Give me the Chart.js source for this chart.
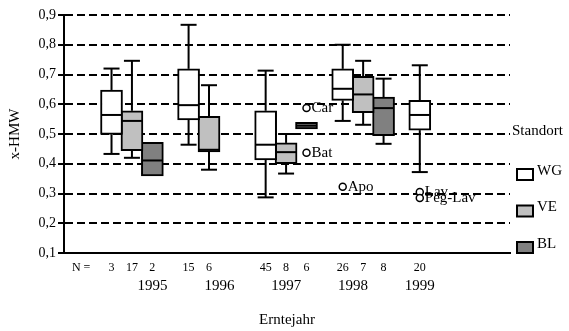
<!DOCTYPE html>
<html>
<head>
<meta charset="utf-8">
<script src="https://cdn.jsdelivr.net/npm/chart.js@4/dist/chart.umd.min.js"></script>
<style>
  body { margin: 0; background: #fff; }
</style>
</head>
<body>
<canvas id="graphique" width="569" height="331"></canvas>
<script>
const jahre = ["1995", "1996", "1997", "1998", "1999"];
const standorte = ["WG", "VE", "BL"];
const farben = ["#ffffff", "#c0c0c0", "#808080"];

// [min, q1, median, q3, max] pro Jahr, null = keine Daten
const boxWG = [
    [0.433, 0.499, 0.564, 0.648, 0.720],
    [0.464, 0.547, 0.597, 0.719, 0.867],
    [0.287, 0.413, 0.464, 0.578, 0.713],
    [0.544, 0.613, 0.652, 0.719, 0.800],
    [0.372, 0.513, 0.564, 0.613, 0.731]
];
const boxVE = [
    [0.420, 0.444, 0.544, 0.578, 0.746],
    [0.380, 0.440, 0.447, 0.559, 0.664],
    [0.367, 0.400, 0.439, 0.470, 0.500],
    [0.531, 0.572, 0.633, 0.694, 0.746],
    null
];
const boxBL = [
    [null, 0.359, 0.411, 0.472, null],
    null,
    [null, 0.517, 0.528, 0.539, null],
    [0.467, 0.494, 0.587, 0.624, 0.686],
    null
];
const nWG = [3, 15, 45, 26, 20];
const nVE = [17, 6, 8, 7, null];
const nBL = [2, null, 6, 8, null];

// Ausreisser
const ausreisserJahr = [2, 2, 3, 4, 4];
const ausreisserStandort = [2, 2, 0, 0, 0];
const ausreisserWert = [0.587, 0.437, 0.323, 0.305, 0.285];
const ausreisserName = ["Car", "Bat", "Apo", "Lav", "Peg-Lav"];

const yTicks = [0.1, 0.2, 0.3, 0.4, 0.5, 0.6, 0.7, 0.8, 0.9];

const boxen = [boxWG, boxVE, boxBL];
const anzahl = [nWG, nVE, nBL];
const schrift = "'Liberation Serif', 'Times New Roman', serif";

// Abstand zwischen den Boxen eines Jahres (in Einheiten der x-Achse)
const ecart = 0.265;
const xMin = -0.659;
const xMax = 4.683;

function position(jahr, standort) {
    return jahr + (standort - 1) * ecart;
}

// Beschriftung "N =" unter der Achse
const nPositionen = [xMin];
const nTexte = ["N ="];
for (let i = 0; i < jahre.length; i++) {
    for (let s = 0; s < standorte.length; s++) {
        if (anzahl[s][i] !== null) {
            nPositionen.push(position(i, s));
            nTexte.push(String(anzahl[s][i]));
        }
    }
}

const datasets = [];
for (let s = 0; s < standorte.length; s++) {
    const punkte = [];
    for (let i = 0; i < jahre.length; i++) {
        const b = boxen[s][i];
        if (b) punkte.push({ x: position(i, s), y: [b[1], b[3]] });
    }
    datasets.push({
        label: standorte[s],
        data: punkte,
        backgroundColor: farben[s],
        borderColor: "#000",
        borderWidth: 2,
        borderSkipped: false,
        barThickness: 22,
        grouped: false
    });
}

const ausreisserPunkte = [];
for (let k = 0; k < ausreisserWert.length; k++) {
    ausreisserPunkte.push({ x: position(ausreisserJahr[k], ausreisserStandort[k]), y: ausreisserWert[k] });
}
datasets.push({
    type: "scatter",
    label: "Ausreisser",
    data: ausreisserPunkte,
    pointRadius: 3.5,
    pointBorderWidth: 1.5,
    borderColor: "#000",
    backgroundColor: "#fff"
});

// Whisker, Median und Namen der Ausreisser
const moustaches = {
    id: "moustaches",
    afterDatasetsDraw(chart) {
        const ctx = chart.ctx;
        const x = chart.scales.x;
        const y = chart.scales.y;
        ctx.save();
        ctx.strokeStyle = "#000";
        ctx.lineWidth = 2;
        function ligne(x1, y1, x2, y2) {
            ctx.beginPath();
            ctx.moveTo(x1, y1);
            ctx.lineTo(x2, y2);
            ctx.stroke();
        }
        for (let s = 0; s < boxen.length; s++) {
            for (let i = 0; i < boxen[s].length; i++) {
                const b = boxen[s][i];
                if (!b) continue;
                const px = x.getPixelForValue(position(i, s));
                ligne(px - 10, y.getPixelForValue(b[2]), px + 10, y.getPixelForValue(b[2]));
                if (b[4] !== null) {
                    ligne(px, y.getPixelForValue(b[3]), px, y.getPixelForValue(b[4]));
                    ligne(px - 8, y.getPixelForValue(b[4]), px + 8, y.getPixelForValue(b[4]));
                }
                if (b[0] !== null) {
                    ligne(px, y.getPixelForValue(b[1]), px, y.getPixelForValue(b[0]));
                    ligne(px - 8, y.getPixelForValue(b[0]), px + 8, y.getPixelForValue(b[0]));
                }
            }
        }
        ctx.fillStyle = "#000";
        ctx.font = "15px " + schrift;
        ctx.textBaseline = "middle";
        ctx.textAlign = "left";
        for (let k = 0; k < ausreisserName.length; k++) {
            const px = x.getPixelForValue(position(ausreisserJahr[k], ausreisserStandort[k]));
            const py = y.getPixelForValue(ausreisserWert[k]);
            ctx.fillText(ausreisserName[k], px + 5, py);
        }
        ctx.restore();
    }
};

// Legende rechts
const legende = {
    id: "legende",
    afterDraw(chart) {
        const ctx = chart.ctx;
        ctx.save();
        ctx.fillStyle = "#000";
        ctx.font = "15px " + schrift;
        ctx.textBaseline = "middle";
        ctx.textAlign = "left";
        ctx.fillText("Standort", 512, 131);
        const elements = chart.data.datasets.filter(d => d.type !== "scatter");
        for (let i = 0; i < elements.length; i++) {
            const cy = 174 + i * 36.5;
            ctx.fillStyle = elements[i].backgroundColor;
            ctx.fillRect(517, cy - 5, 16, 11);
            ctx.strokeStyle = "#000";
            ctx.lineWidth = 2;
            ctx.strokeRect(517, cy - 5, 16, 11);
            ctx.fillStyle = "#000";
            ctx.fillText(elements[i].label, 537, cy - 3);
        }
        ctx.restore();
    }
};

const config = {
    type: "bar",
    data: { datasets: datasets },
    options: {
        responsive: false,
        animation: false,
        events: [],
        layout: { padding: { top: 15, right: 59, bottom: 0, left: 0 } },
        plugins: {
            legend: { display: false },
            tooltip: { enabled: false }
        },
        scales: {
            x: {
                type: "linear",
                position: "bottom",
                weight: 1,
                min: xMin,
                max: xMax,
                afterBuildTicks(axis) {
                    axis.ticks = nPositionen.map(v => ({ value: v }));
                },
                ticks: {
                    autoSkip: false,
                    maxRotation: 0,
                    padding: 8,
                    color: "#000",
                    font: { family: schrift, size: 12 },
                    callback: (v, i) => nTexte[i]
                },
                grid: { display: false, drawTicks: false },
                border: { display: true, color: "#000", width: 2 },
                afterFit(scale) { scale.height = 20; }
            },
            x2: {
                type: "linear",
                position: "bottom",
                weight: 2,
                min: xMin,
                max: xMax,
                afterBuildTicks(axis) {
                    axis.ticks = jahre.map((j, i) => ({ value: i }));
                },
                ticks: {
                    autoSkip: false,
                    maxRotation: 0,
                    padding: 4,
                    color: "#000",
                    font: { family: schrift, size: 15 },
                    callback: (v, i) => jahre[i]
                },
                grid: { display: false, drawTicks: false },
                border: { display: false },
                title: {
                    display: true,
                    text: "Erntejahr",
                    color: "#000",
                    font: { family: schrift, size: 15 },
                    padding: { top: 2, bottom: 2 }
                },
                afterFit(scale) { scale.height = 58; }
            },
            y: {
                min: 0.1,
                max: 0.9,
                stacked: false,
                afterBuildTicks(axis) {
                    axis.ticks = yTicks.map(v => ({ value: v }));
                },
                ticks: {
                    padding: 2,
                    color: "#000",
                    font: { family: schrift, size: 14 },
                    callback: v => v.toFixed(1).replace(".", ",")
                },
                grid: {
                    color: "#000",
                    lineWidth: 2,
                    tickLength: 6,
                    tickColor: "#000",
                    tickWidth: 2,
                    tickBorderDash: []
                },
                border: { color: "#000", width: 2, dash: [8, 4] },
                title: {
                    display: true,
                    text: "x-HMW",
                    color: "#000",
                    font: { family: schrift, size: 15 },
                    padding: { top: 6, bottom: 0 }
                },
                afterFit(scale) { scale.width = 64; }
            }
        }
    },
    plugins: [moustaches, legende]
};

const graphique = new Chart(document.querySelector("#graphique"), config);
</script>
</body>
</html>
